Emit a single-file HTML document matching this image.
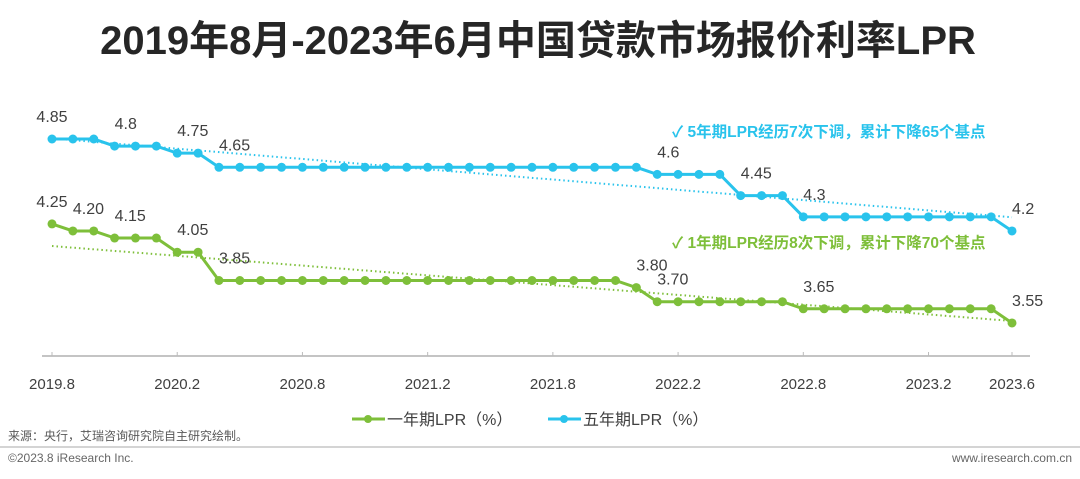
<!DOCTYPE html>
<html><head><meta charset="utf-8"><style>
body{margin:0;width:1080px;height:474px;background:#fff;overflow:hidden;font-family:"Liberation Sans","Noto Sans CJK SC",sans-serif}
</style></head><body>
<svg width="1080" height="474" xmlns="http://www.w3.org/2000/svg" style="font-family:'Liberation Sans','Noto Sans CJK SC',sans-serif">
<text x="538" y="54" text-anchor="middle" font-size="40" font-weight="bold" fill="#262626">2019年8月-2023年6月中国贷款市场报价利率LPR</text>
<g id="plot"></g>
<text x="672" y="137" font-size="15.5" font-weight="bold" fill="#29c3ec">✓  5年期LPR经历7次下调，累计下降65个基点</text>
<text x="672" y="248" font-size="15.5" font-weight="bold" fill="#7ebf3a">✓  1年期LPR经历8次下调，累计下降70个基点</text>
<g>
<g><line x1="352" y1="419" x2="385" y2="419" stroke="#7ebf3a" stroke-width="3"/><circle cx="368" cy="419" r="4" fill="#7ebf3a"/><text x="387" y="425" font-size="16" fill="#404040">一年期LPR（%）</text></g>
<g><line x1="548" y1="419" x2="581" y2="419" stroke="#29c3ec" stroke-width="3"/><circle cx="564" cy="419" r="4" fill="#29c3ec"/><text x="583" y="425" font-size="16" fill="#404040">五年期LPR（%）</text></g>
</g>
<text x="8" y="440" font-size="12" fill="#595959">来源：央行，艾瑞咨询研究院自主研究绘制。</text>
<line x1="0" y1="447" x2="1080" y2="447" stroke="#aaa" stroke-width="1"/>
<text x="8" y="462" font-size="12" fill="#666">©2023.8 iResearch Inc.</text>
<text x="1072" y="462" font-size="12" fill="#666" text-anchor="end">www.iresearch.com.cn</text>
</svg>
<script>
const oneYear=[4.25,4.20,4.20,4.15,4.15,4.15,4.05,4.05,3.85,3.85,3.85,3.85,3.85,3.85,3.85,3.85,3.85,3.85,3.85,3.85,3.85,3.85,3.85,3.85,3.85,3.85,3.85,3.85,3.80,3.70,3.70,3.70,3.70,3.70,3.70,3.70,3.65,3.65,3.65,3.65,3.65,3.65,3.65,3.65,3.65,3.65,3.55];
const fiveYear=[4.85,4.85,4.85,4.80,4.80,4.80,4.75,4.75,4.65,4.65,4.65,4.65,4.65,4.65,4.65,4.65,4.65,4.65,4.65,4.65,4.65,4.65,4.65,4.65,4.65,4.65,4.65,4.65,4.65,4.60,4.60,4.60,4.60,4.45,4.45,4.45,4.30,4.30,4.30,4.30,4.30,4.30,4.30,4.30,4.30,4.30,4.20];
const tickLabels=["2019.8","2020.2","2020.8","2021.2","2021.8","2022.2","2022.8","2023.2","2023.6"];
const tickIndex=[0,6,12,18,24,30,36,42,46];
const oneLabels=[[0,"4.25"],[1,"4.20"],[3,"4.15"],[6,"4.05"],[8,"3.85"],[28,"3.80"],[29,"3.70"],[36,"3.65"],[46,"3.55"]];
const fiveLabels=[[0,"4.85"],[3,"4.8"],[6,"4.75"],[8,"4.65"],[29,"4.6"],[33,"4.45"],[36,"4.3"],[46,"4.2"]];
const NS="http://www.w3.org/2000/svg";
const g=document.getElementById('plot');
const x=i=>52+i*(1012-52)/46;
const y=v=>139+(4.85-v)*141.5;
function el(t,a){const e=document.createElementNS(NS,t);for(const k in a)e.setAttribute(k,a[k]);g.appendChild(e);return e;}
let ax=el('line',{x1:42,y1:356,x2:1030,y2:356,stroke:'#888','stroke-width':1});


tickIndex.forEach((ti,k)=>{
 let t=el('line',{x1:x(ti),y1:352,x2:x(ti),y2:356,stroke:'#bbb'});
 
 
 let l=el('text',{x:x(ti),y:389,'text-anchor':'middle','font-size':15,fill:'#404040'});l.textContent=tickLabels[k];
 
 
});
function trend(d,color,name){
 const n=d.length;let sx=0,sy=0,sxx=0,sxy=0;d.forEach((v,i)=>{sx+=i;sy+=v;sxx+=i*i;sxy+=i*v;});
 const b=(n*sxy-sx*sy)/(n*sxx-sx*sx),a=(sy-b*sx)/n;
 let t=el('line',{x1:x(0),y1:y(a),x2:x(n-1),y2:y(a+b*(n-1)),stroke:color,'stroke-width':2,'stroke-dasharray':'1.5 3'});
 
 
}
function series(d,color,name,labels,dy){
 let p=el('polyline',{points:d.map((v,i)=>x(i)+','+y(v)).join(' '),fill:'none',stroke:color,'stroke-width':3});
 
 
 d.forEach((v,i)=>{let c=el('circle',{cx:x(i),cy:y(v),r:4.5,fill:color});
  
  });
 labels.forEach(([i,s])=>{let t=el('text',{x:x(i),y:y(d[i])-dy,'text-anchor':i==0?'middle':'start','font-size':16,fill:'#404040'});t.textContent=s;
  
  });
}
trend(fiveYear,'#29c3ec','five-year-trendline');
trend(oneYear,'#7ebf3a','one-year-trendline');
series(fiveYear,'#29c3ec','five-year',fiveLabels,17);
series(oneYear,'#7ebf3a','one-year',oneLabels,17);
</script>
</body></html>
